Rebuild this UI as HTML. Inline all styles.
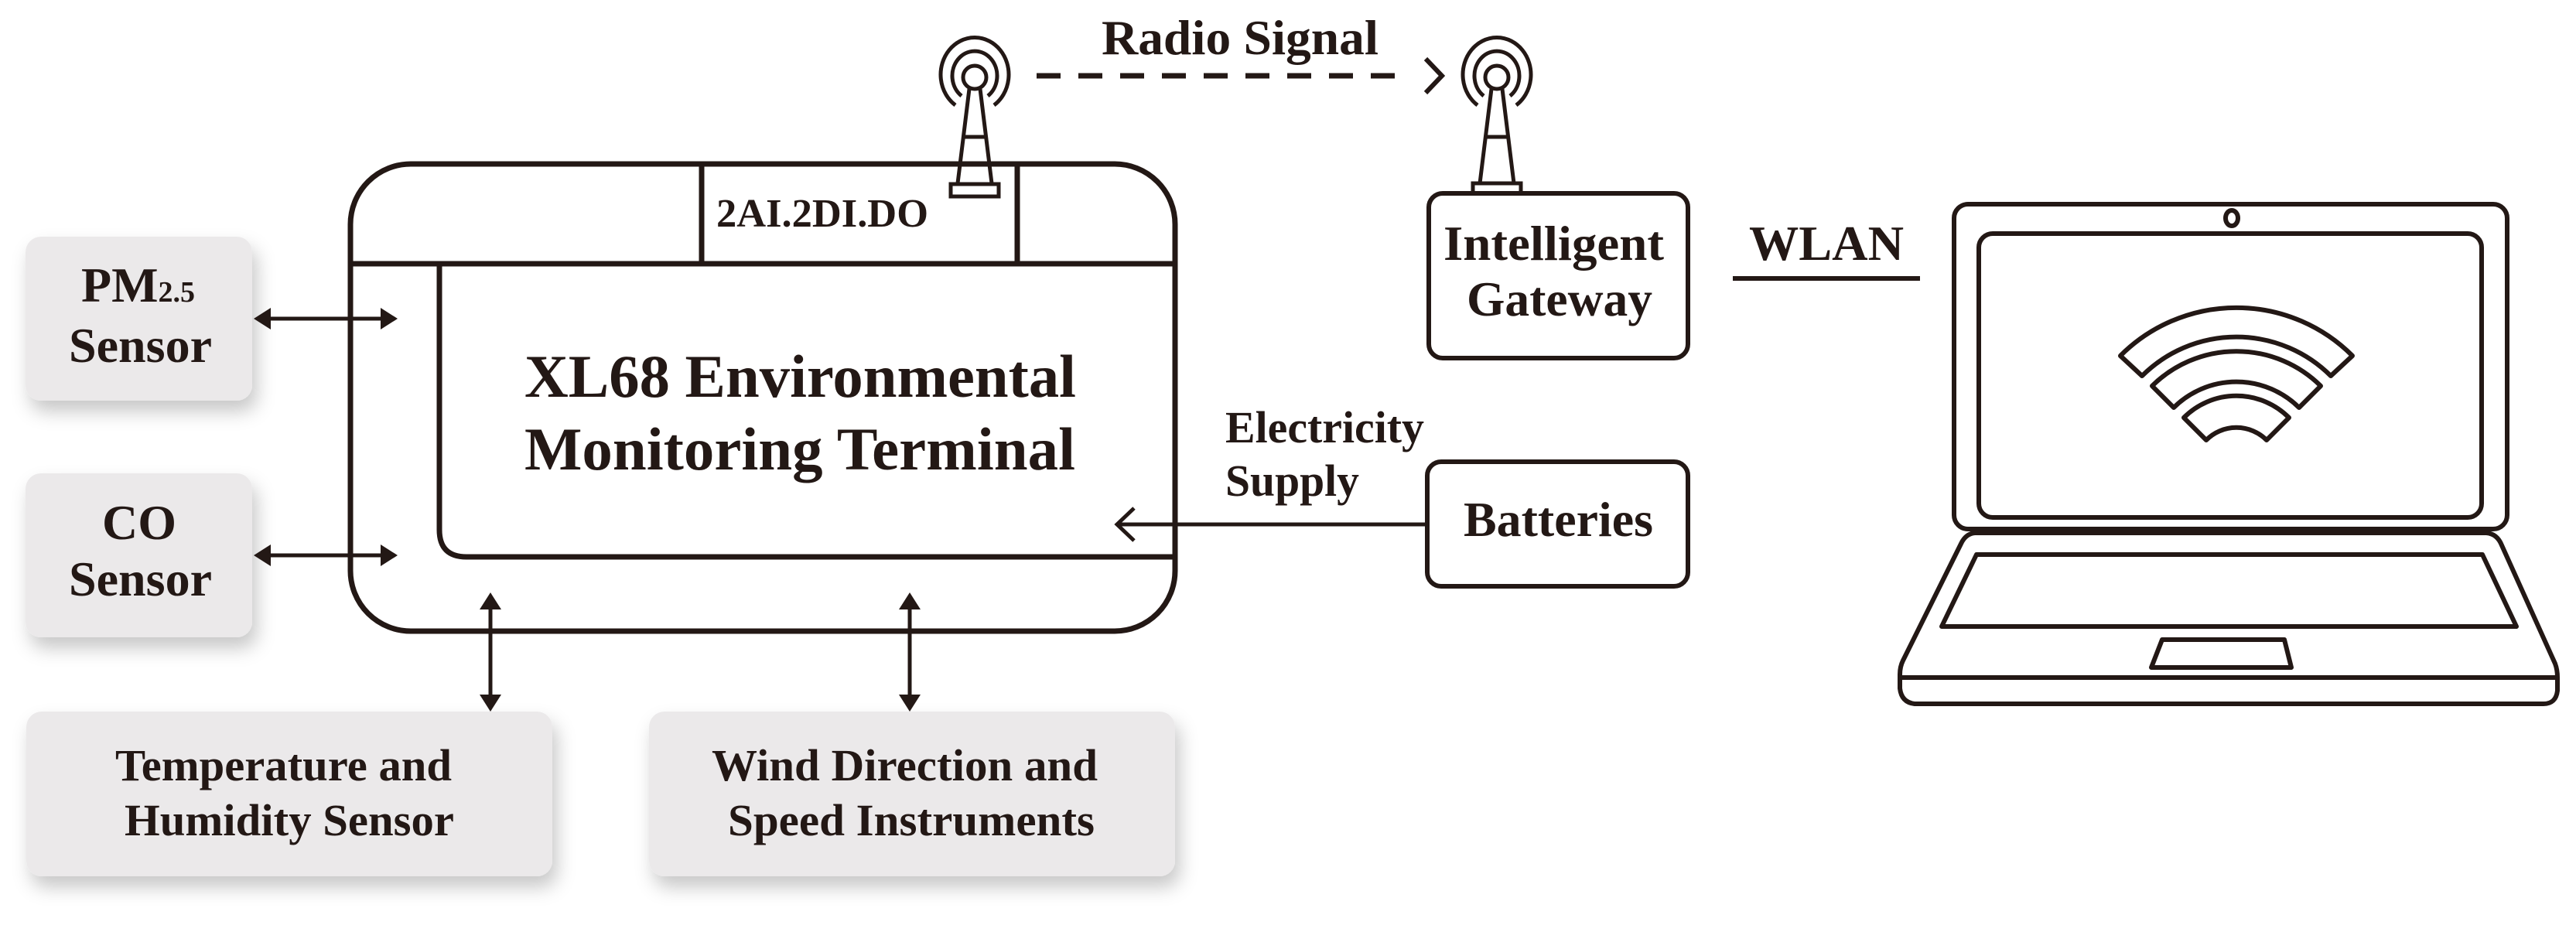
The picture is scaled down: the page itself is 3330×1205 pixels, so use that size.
<!DOCTYPE html>
<html><head><meta charset="utf-8"><style>
html,body{margin:0;padding:0;background:#fff;}
svg{display:block;}
text{font-family:"Liberation Serif","Times New Roman",serif;font-weight:bold;fill:#231815;}
</style></head><body>
<svg width="3330" height="1205" viewBox="0 0 3330 1205" xmlns="http://www.w3.org/2000/svg">
<defs>
<filter id="sh" x="-20%" y="-20%" width="150%" height="160%">
<feDropShadow dx="6" dy="14" stdDeviation="12" flood-color="#000" flood-opacity="0.22"/>
</filter>
</defs>
<g fill="#ebe9ea" filter="url(#sh)">
<rect x="33" y="306" width="293" height="212" rx="20"/>
<rect x="33" y="612" width="293" height="212" rx="20"/>
<rect x="34" y="920" width="680" height="213" rx="20"/>
<rect x="839" y="920" width="680" height="213" rx="20"/>
</g>
<g fill="none" stroke="#231815" stroke-width="7" stroke-linejoin="round">
<rect x="453" y="212" width="1066" height="604" rx="78"/>
<line x1="453" y1="341" x2="1519" y2="341"/>
<line x1="907" y1="212" x2="907" y2="341"/>
<line x1="1315" y1="212" x2="1315" y2="341"/>
<path d="M568,341 L568,685 Q568,720 603,720 L1519,720"/>
</g>
<!-- antennas -->
<g fill="none" stroke="#231815" stroke-width="5">
<g id="ant1">
<path d="M1235,136 A44,48 0 1 1 1285,136"/>
<path d="M1243,124 A29,32 0 1 1 1277,124"/>
<circle cx="1260" cy="100" r="15"/>
<path d="M1253,115 L1238,237 M1267,115 L1282,237 M1246,177 L1274,177"/>
<rect x="1229" y="238" width="62" height="16" fill="#fff"/>
</g>
<g>
<path d="M1910,136 A44,48 0 1 1 1960,136"/>
<path d="M1918,124 A29,32 0 1 1 1952,124"/>
<circle cx="1935" cy="100" r="15"/>
<path d="M1928,115 L1913,237 M1942,115 L1957,237 M1921,177 L1949,177"/>
<rect x="1904" y="237" width="62" height="13" fill="#fff"/>
</g>
<line x1="1340" y1="98" x2="1815" y2="98" stroke-width="7" stroke-dasharray="31,23"/>
<polyline points="1843,76 1864,98 1843,120" stroke-width="6"/>
</g>
<!-- double arrows -->
<g stroke="#231815" stroke-width="5" fill="#231815">
<line x1="345" y1="412" x2="497" y2="412"/>
<polygon points="328,412 350,398 350,426" stroke="none"/>
<polygon points="514,412 492,398 492,426" stroke="none"/>
<line x1="345" y1="718" x2="497" y2="718"/>
<polygon points="328,718 350,704 350,732" stroke="none"/>
<polygon points="514,718 492,704 492,732" stroke="none"/>
<line x1="634" y1="784" x2="634" y2="902"/>
<polygon points="634,766 620,788 648,788" stroke="none"/>
<polygon points="634,920 620,898 648,898" stroke="none"/>
<line x1="1176" y1="784" x2="1176" y2="902"/>
<polygon points="1176,766 1162,788 1190,788" stroke="none"/>
<polygon points="1176,920 1162,898 1190,898" stroke="none"/>
</g>
<!-- electricity arrow -->
<g fill="none" stroke="#231815" stroke-width="5">
<line x1="1845" y1="678" x2="1445" y2="678"/>
<polyline points="1466,657 1444,678 1466,699"/>
</g>
<!-- gateway, batteries -->
<g fill="#fff" stroke="#231815" stroke-width="6">
<rect x="1847" y="250" width="335" height="213" rx="18"/>
<rect x="1845" y="597" width="337" height="161" rx="18"/>
</g>
<line x1="2240" y1="360" x2="2482" y2="360" stroke="#231815" stroke-width="6"/>
<!-- laptop -->
<g fill="none" stroke="#231815" stroke-width="6" stroke-linejoin="round">
<rect x="2526" y="264" width="715" height="420" rx="18"/>
<rect x="2558" y="302" width="650" height="367" rx="18"/>
<ellipse cx="2885" cy="282" rx="8" ry="10"/>
<path d="M2553,689 L3214,689 Q3228,690 3234,705 L3303,858 Q3306,866 3306,876 L3306,893 Q3304,910 3288,910 L2475,910 Q2458,908 2456,890 L2456,872 Q2456,862 2460,854 L2535,703 Q2541,690 2553,689 Z"/>
<line x1="2457" y1="876" x2="3305" y2="876"/>
<polygon points="2555,717 3209,717 3253,810 2510,810"/>
<polygon points="2795,827 2953,827 2962,863 2781,863"/>
<path d="M2741,460 A212,212 0 0 1 3041,460 L3013,486 A173,173 0 0 0 2769,486 Z"/>
<path d="M2782,499 A155,155 0 0 1 3000,499 L2972,527 A115,115 0 0 0 2810,527 Z"/>
<path d="M2823,540 A96,96 0 0 1 2959,540 L2930,569 A55,55 0 0 0 2852,569 Z"/>
</g>
<!-- text -->
<text x="1424" y="70" font-size="64" textLength="358" lengthAdjust="spacingAndGlyphs">Radio Signal</text>
<text x="926" y="293" font-size="52" textLength="274" lengthAdjust="spacingAndGlyphs">2AI.2DI.DO</text>
<text x="678" y="513" font-size="78" textLength="713" lengthAdjust="spacingAndGlyphs">XL68 Environmental</text>
<text x="678" y="607" font-size="78" textLength="712" lengthAdjust="spacingAndGlyphs">Monitoring Terminal</text>
<text x="105" y="390" font-size="64">PM<tspan font-size="38">2.5</tspan></text>
<text x="89" y="468" font-size="64" textLength="185" lengthAdjust="spacingAndGlyphs">Sensor</text>
<text x="180" y="697" font-size="64" text-anchor="middle">CO</text>
<text x="89" y="770" font-size="64" textLength="185" lengthAdjust="spacingAndGlyphs">Sensor</text>
<text x="149" y="1009" font-size="58" textLength="435" lengthAdjust="spacingAndGlyphs">Temperature and</text>
<text x="161" y="1080" font-size="58" textLength="426" lengthAdjust="spacingAndGlyphs">Humidity Sensor</text>
<text x="920" y="1009" font-size="58" textLength="499" lengthAdjust="spacingAndGlyphs">Wind Direction and</text>
<text x="941" y="1080" font-size="58" textLength="474" lengthAdjust="spacingAndGlyphs">Speed Instruments</text>
<text x="1866" y="336" font-size="64" textLength="285" lengthAdjust="spacingAndGlyphs">Intelligent</text>
<text x="1896" y="408" font-size="64" textLength="240" lengthAdjust="spacingAndGlyphs">Gateway</text>
<text x="2261" y="336" font-size="64" textLength="200" lengthAdjust="spacingAndGlyphs">WLAN</text>
<text x="1584" y="572" font-size="58" textLength="257" lengthAdjust="spacingAndGlyphs">Electricity</text>
<text x="1584" y="641" font-size="58" textLength="173" lengthAdjust="spacingAndGlyphs">Supply</text>
<text x="1892" y="693" font-size="64" textLength="245" lengthAdjust="spacingAndGlyphs">Batteries</text>
</svg>
</body></html>
